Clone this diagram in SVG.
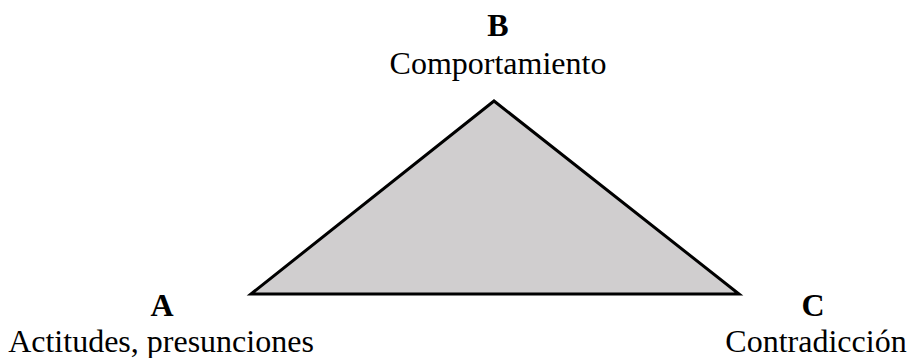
<svg xmlns="http://www.w3.org/2000/svg" width="909" height="358" viewBox="0 0 909 358">
<style>
text{font-family:"Liberation Serif","Times New Roman",serif;font-size:32px;fill:#000;text-anchor:middle}
.l{font-weight:bold}
</style>
<rect width="909" height="358" fill="#fff"/>
<g id="connectors"></g>
<g id="triangle">
<polygon points="494,101 251,294 739,294" fill="#d0cecf" stroke="#000" stroke-width="3" stroke-linejoin="miter"/>
</g>
<g id="nodeB">
<text class="l" x="498" y="36">B</text>
<text x="498" y="74">Comportamiento</text>
</g>
<g id="nodeA">
<text class="l" x="162" y="316">A</text>
<text x="161" y="352">Actitudes, presunciones</text>
</g>
<g id="nodeC">
<text class="l" x="813" y="316">C</text>
<text x="816" y="352">Contradicción</text>
</g>
</svg>
